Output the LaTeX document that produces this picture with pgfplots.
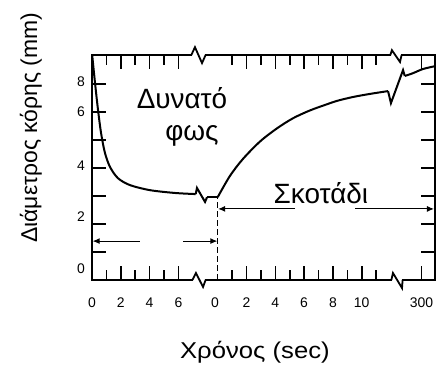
\documentclass[border=0pt]{standalone}
\usepackage{fontspec}
\setmainfont{Liberation Sans}
\newfontfamily\widesans[FakeStretch=1.12]{Liberation Sans}
\usepackage{pgfplots}
\usepackage{pgfplotstable}
\pgfplotsset{compat=1.18}
\usetikzlibrary{arrows.meta}

% Pupil diameter in bright light (seconds from 0)
\pgfplotstableread{
t    y
0.02 8.00
0.21 7.04
0.42 6.07
0.63 5.25
0.90 4.54
1.25 4.04
1.80 3.64
2.64 3.39
4.03 3.21
5.76 3.11
7.20 3.07
}\lightdata

% Pupil diameter after the light goes out (seconds from 0)
\pgfplotstableread{
t     y
0.00  2.96
0.85  3.72
1.76  4.33
2.94  4.95
4.12  5.42
5.23  5.78
6.41  6.06
7.59  6.28
8.28  6.40
9.40  6.54
10.58 6.65
11.83 6.75
}\darkdata

% Late values, around 300 s
\pgfplotstableread{
t     y
276.6 7.29
288.0 7.39
302.0 7.54
318.6 7.64
}\latedata

\newcommand{\lblfont}{\fontsize{23}{25}\selectfont}
\newcommand{\bigfont}{\fontsize{28}{30}\selectfont}

\begin{document}
\begin{tikzpicture}
\begin{axis}[
  set layers,
  scale only axis, width=343bp, height=225bp,
  xmin=0, xmax=23.82, ymin=0, ymax=8.04,
  clip=false,
  axis line style={line width=1.8bp},
  every tick/.style={black, line width=1.6bp},
  tick align=inside, tick pos=both,
  major tick length=14bp, minor tick length=10bp,
  xtick={2,4,6,10.73,12.73,14.73,16.73,18.73,22.89},
  minor xtick={1,3,5,9.73,11.73,13.73,15.73,17.73,19.73},
  xticklabels={},
  extra x ticks={0,2,4,6,8.55,10.73,12.73,14.73,16.73,18.73,22.89},
  extra x tick labels={0,2,4,6,0,2,4,6,8,10,300},
  extra x tick style={major tick length=0pt},
  ytick={1,2,3,4,5,6,7},
  yticklabels={},
  extra y ticks={0.4,2.25,4.1,6,7.07},
  extra y tick labels={0,2,4,6,8},
  extra y tick style={major tick length=0pt},
  /pgf/number format/assume math mode=true,
  tick label style={font=\fontsize{14}{14}\selectfont},
  xticklabel style={anchor=base, inner sep=0pt, yshift=-27bp},
  yticklabel style={anchor=east, inner sep=0pt, xshift=-7bp},
  xlabel={Χρόνος (sec)},
  ylabel={Διάμετρος κόρης (mm)},
  every axis x label/.style={at={(rel axis cs:0.475,-0.32)}, anchor=center, font=\lblfont\widesans},
  every axis y label/.style={at={(rel axis cs:-0.178,0.676)}, anchor=center, rotate=90, font=\lblfont},
]
% curves
\addplot[black, line width=2bp, smooth, tension=0.5] table[x=t, y=y] {\lightdata};
\addplot[black, line width=2bp] coordinates {(7.99,2.96) (8.73,2.96)};
\addplot[black, line width=2bp, smooth, tension=0.5] table[x expr=\thisrow{t}+8.73, y=y] {\darkdata};
\addplot[black, line width=2bp, smooth, tension=0.5] table[x expr=22.89+(\thisrow{t}-300)/20, y=y] {\latedata};
% breaks in the curve
\addplot[black, line width=2bp] coordinates {(7.20,3.07) (7.29,3.29) (7.85,2.79) (7.99,2.96)};
\addplot[black, line width=2bp] coordinates {(20.56,6.75) (20.76,6.32) (21.60,7.50) (21.72,7.29)};
% dashed line at the switch-off
\addplot[black, line width=1.1bp, dash pattern=on 6bp off 3bp] coordinates {(8.73,0) (8.73,2.96)};
% interval arrows
\addplot[black, line width=1bp, -{Latex[length=7bp,width=6bp]}] coordinates {(3.33,1.39) (0.05,1.39)};
\addplot[black, line width=1bp, -{Latex[length=7bp,width=6bp]}] coordinates {(6.32,1.39) (8.70,1.39)};
\addplot[black, line width=1bp, -{Latex[length=7bp,width=6bp]}] coordinates {(14.10,2.54) (8.76,2.54)};
\addplot[black, line width=1bp, -{Latex[length=7bp,width=6bp]}] coordinates {(18.27,2.54) (23.75,2.54)};
% breaks in the time axis
\addplot[white, line width=3.5bp, on layer=axis foreground] coordinates {(6.94,8.04) (7.85,8.04)};
\addplot[white, line width=3.5bp, on layer=axis foreground] coordinates {(7.01,0) (7.85,0)};
\addplot[white, line width=3.5bp, on layer=axis foreground] coordinates {(20.76,8.04) (21.46,8.04)};
\addplot[white, line width=3.5bp, on layer=axis foreground] coordinates {(20.83,0) (21.53,0)};
\addplot[black, line width=1.8bp, on layer=axis foreground] coordinates {(6.90,8.04) (7.15,8.32) (7.64,7.75) (7.89,8.04)};
\addplot[black, line width=1.8bp, on layer=axis foreground] coordinates {(6.97,0) (7.22,0.25) (7.71,-0.25) (7.89,0)};
\addplot[black, line width=1.8bp, on layer=axis foreground] coordinates {(20.72,8.04) (20.83,8.21) (21.39,7.79) (21.50,8.04)};
\addplot[black, line width=1.8bp, on layer=axis foreground] coordinates {(20.79,0) (20.90,0.25) (21.53,-0.29) (21.57,0)};
% annotations
\node[anchor=base, font=\bigfont] at (axis cs:6.25,6.14) {Δυνατό};
\node[anchor=base, font=\bigfont] at (axis cs:6.94,5.00) {φως};
\node[anchor=base, font=\bigfont] at (axis cs:15.9,2.75) {Σκοτάδι};
\coordinate (SW) at (rel axis cs:0,0);
\coordinate (NE) at (rel axis cs:1,1);
\end{axis}
\useasboundingbox ([shift={(-92bp,-87bp)}]SW) rectangle ([shift={(1bp,55bp)}]NE);
\end{tikzpicture}
\end{document}
